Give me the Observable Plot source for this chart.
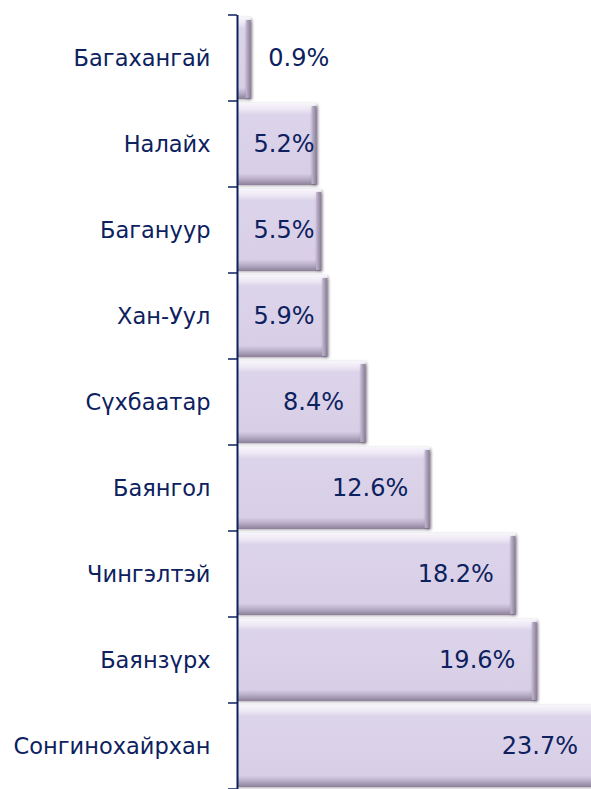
<!DOCTYPE html>
<html><head><meta charset="utf-8">
<script src="https://cdn.jsdelivr.net/npm/d3@7"></script>
<script src="https://cdn.jsdelivr.net/npm/@observablehq/plot@0.6"></script>
<style>
body{margin:0;background:#fff;}
#chart{width:591px;height:789px;overflow:hidden;}
</style>
</head><body><div id="chart"></div>
<script>
const districts = ["Багахангай","Налайх","Багануур","Хан-Уул","Сүхбаатар","Баянгол","Чингэлтэй","Баянзүрх","Сонгинохайрхан"];
const shares = [0.9, 5.2, 5.5, 5.9, 8.4, 12.6, 18.2, 19.6, 23.7];
const valueLabels = ["0.9%","5.2%","5.5%","5.9%","8.4%","12.6%","18.2%","19.6%","23.7%"];

const data = districts.map((d, i) => ({district: d, share: shares[i], label: valueLabels[i]}));
const navy = "#0c215e";

const defs = () => {
  const g = d3.create("svg:defs");
  const v = g.append("linearGradient").attr("id", "barGrad").attr("x1", 0).attr("y1", 0).attr("x2", 0).attr("y2", 1);
  [[0, "#f8f6fc"], [0.07, "#eee9f5"], [0.14, "#dcd4ea"], [0.86, "#d8cfe6"], [0.93, "#b7acc5"], [1, "#8c8199"]]
    .forEach(([o, c]) => v.append("stop").attr("offset", o).attr("stop-color", c));
  const h = g.append("linearGradient").attr("id", "edgeGrad").attr("x1", 0).attr("y1", 0).attr("x2", 1).attr("y2", 0);
  [[0, "#c4b9d2"], [1, "#887d95"]].forEach(([o, c]) => h.append("stop").attr("offset", o).attr("stop-color", c));
  return g.node();
};

const boundaryTicks = (index, scales) => {
  const y = scales.y;
  const g = d3.create("svg:g").attr("stroke", navy).attr("stroke-width", 1.5);
  const bw = y.bandwidth ? y.bandwidth() : 86;
  const pos = districts.map(d => y(d));
  pos.push(y(districts[districts.length - 1]) + bw);
  pos.forEach(p => g.append("line").attr("x1", 228).attr("x2", 237).attr("y1", p).attr("y2", p));
  return g.node();
};

const chart = Plot.plot({
  width: 591, height: 789,
  marginTop: 15, marginBottom: 0, marginLeft: 237, marginRight: 0,
  style: {fontFamily: "DejaVu Sans", background: "white", overflow: "hidden"},
  x: {domain: [0, 23.14], axis: null},
  y: {domain: districts, padding: 0, label: null},
  marks: [
    defs,
    Plot.barX(data, {y: "district", x: "share", insetTop: 2, insetBottom: 2, fill: "url(#barGrad)", clip: true}),
    Plot.barX(data, {y: "district", x1: "share", x2: "share", insetLeft: -5, insetTop: 5, insetBottom: 3, fill: "url(#edgeGrad)", clip: true}),
    Plot.ruleX([0], {stroke: navy, strokeWidth: 2}),
    boundaryTicks,
    Plot.axisY({tickSize: 0, tickPadding: 27, fontSize: 22.5, color: navy, label: null}),
    Plot.text(data.filter(d => d.share < 2), {y: "district", x: "share", text: "label", textAnchor: "start", dx: 17, fontSize: 24, fill: navy}),
    Plot.text(data.filter(d => d.share >= 2 && d.share < 6.5), {y: "district", x: () => 0, text: "label", textAnchor: "start", dx: 16, fontSize: 24, fill: navy}),
    Plot.text(data.filter(d => d.share >= 6.5), {y: "district", x: "share", text: "label", textAnchor: "end", dx: -22, fontSize: 24, fill: navy})
  ]
});
d3.select(chart).selectAll("g[aria-label='bar']").style("filter", "drop-shadow(1.5px 1.5px 1.5px rgba(70,60,80,0.45))");
document.getElementById("chart").append(chart);
</script>
</body></html>
